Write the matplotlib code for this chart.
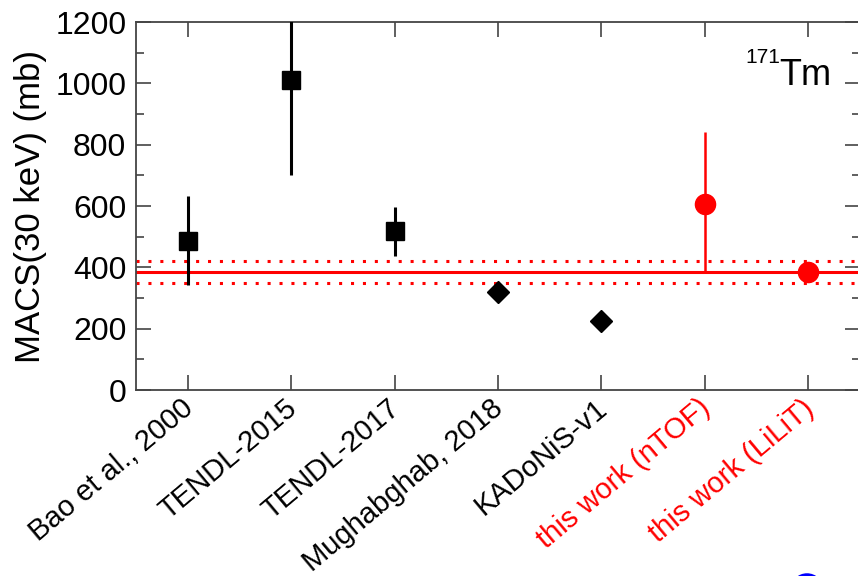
import matplotlib
matplotlib.use("Agg")
import matplotlib.pyplot as plt
from matplotlib.patches import Circle
from matplotlib.ticker import MultipleLocator
from matplotlib.transforms import ScaledTranslation

plt.rcParams['font.family'] = ['Liberation Sans', 'DejaVu Sans']

# MACS(30 keV) values for 171Tm, in mb
labels = ['Bao et al., 2000', 'TENDL-2015', 'TENDL-2017', 'Mughabghab, 2018',
          'KADoNiS-v1', 'this work (nTOF)', 'this work (LiLiT)']
label_colors = ['black', 'black', 'black', 'black', 'black', 'red', 'red']

square_idx = [0, 1, 2]
square_val = [486, 1011, 518]
square_err = [145, 310, 80]

diamond_idx = [3, 4]
diamond_val = [320, 226]

ntof_idx = 5
ntof_val = 605
ntof_err_lo = 222
ntof_err_hi = 237

lilit_idx = 6
lilit_val = 384
lilit_band = 36

fig = plt.figure(figsize=(8.58, 5.76), dpi=100)
ax = fig.add_axes([0.1585, 0.3229, 0.8438, 0.6389])

# reference band from the LiLiT result
ax.axhline(lilit_val, color='red', lw=2.2, zorder=1)
ax.axhline(lilit_val + lilit_band, color='red', lw=2.2, ls=(0, (1, 2.9)), zorder=1)
ax.axhline(lilit_val - lilit_band, color='red', lw=2.2, ls=(0, (1, 2.9)), zorder=1)

ax.errorbar(square_idx, square_val, yerr=square_err, fmt='s', color='black',
            ms=12.5, elinewidth=2.2, capsize=0, zorder=3)
ax.plot(diamond_idx, diamond_val, 'D', color='black', ms=11, zorder=3)
ax.errorbar([ntof_idx], [ntof_val], yerr=[[ntof_err_lo], [ntof_err_hi]], fmt='o',
            color='red', ms=14.5, elinewidth=1.8, capsize=0, zorder=3)
ax.plot([lilit_idx], [lilit_val], 'o', color='red', ms=14.5, zorder=3)

ax.set_xlim(-0.5, 6.5)
ax.set_ylim(0, 1200)
ax.yaxis.set_major_locator(MultipleLocator(200))
ax.yaxis.set_minor_locator(MultipleLocator(100))
ax.tick_params(axis='both', which='major', direction='in', length=11, width=1.2,
               top=True, right=True, color='#444444')
ax.tick_params(axis='y', which='minor', direction='in', length=6, width=1.2,
               right=True, color='#444444')
ax.tick_params(axis='y', labelsize=23, pad=7)
ax.tick_params(axis='x', pad=15)

ax.set_xticks(range(len(labels)))
ax.set_xticklabels(labels, rotation=40, ha='right', va='baseline',
                   rotation_mode='anchor', fontsize=21)
shift = ScaledTranslation(7 / 100, 0, fig.dpi_scale_trans)
for t, c in zip(ax.get_xticklabels(), label_colors):
    t.set_color(c)
    t.set_transform(t.get_transform() + shift)

for s in ax.spines.values():
    s.set_linewidth(1.3)
    s.set_color('#444444')

ax.set_ylabel('MACS(30 keV) (mb)', fontsize=25, labelpad=6)

ax.text(0.961, 0.829, 'Tm', transform=ax.transAxes, ha='right', va='baseline', fontsize=26)
ax.text(0.8895, 0.889, '171', transform=ax.transAxes, ha='right', va='baseline', fontsize=15)

# marker from a legend row sitting below the canvas
fig.add_artist(Circle((8.07, -0.14), 0.15, transform=fig.dpi_scale_trans,
                      facecolor='none', edgecolor='blue', lw=2.5))

fig.savefig('out.png', dpi=100)
